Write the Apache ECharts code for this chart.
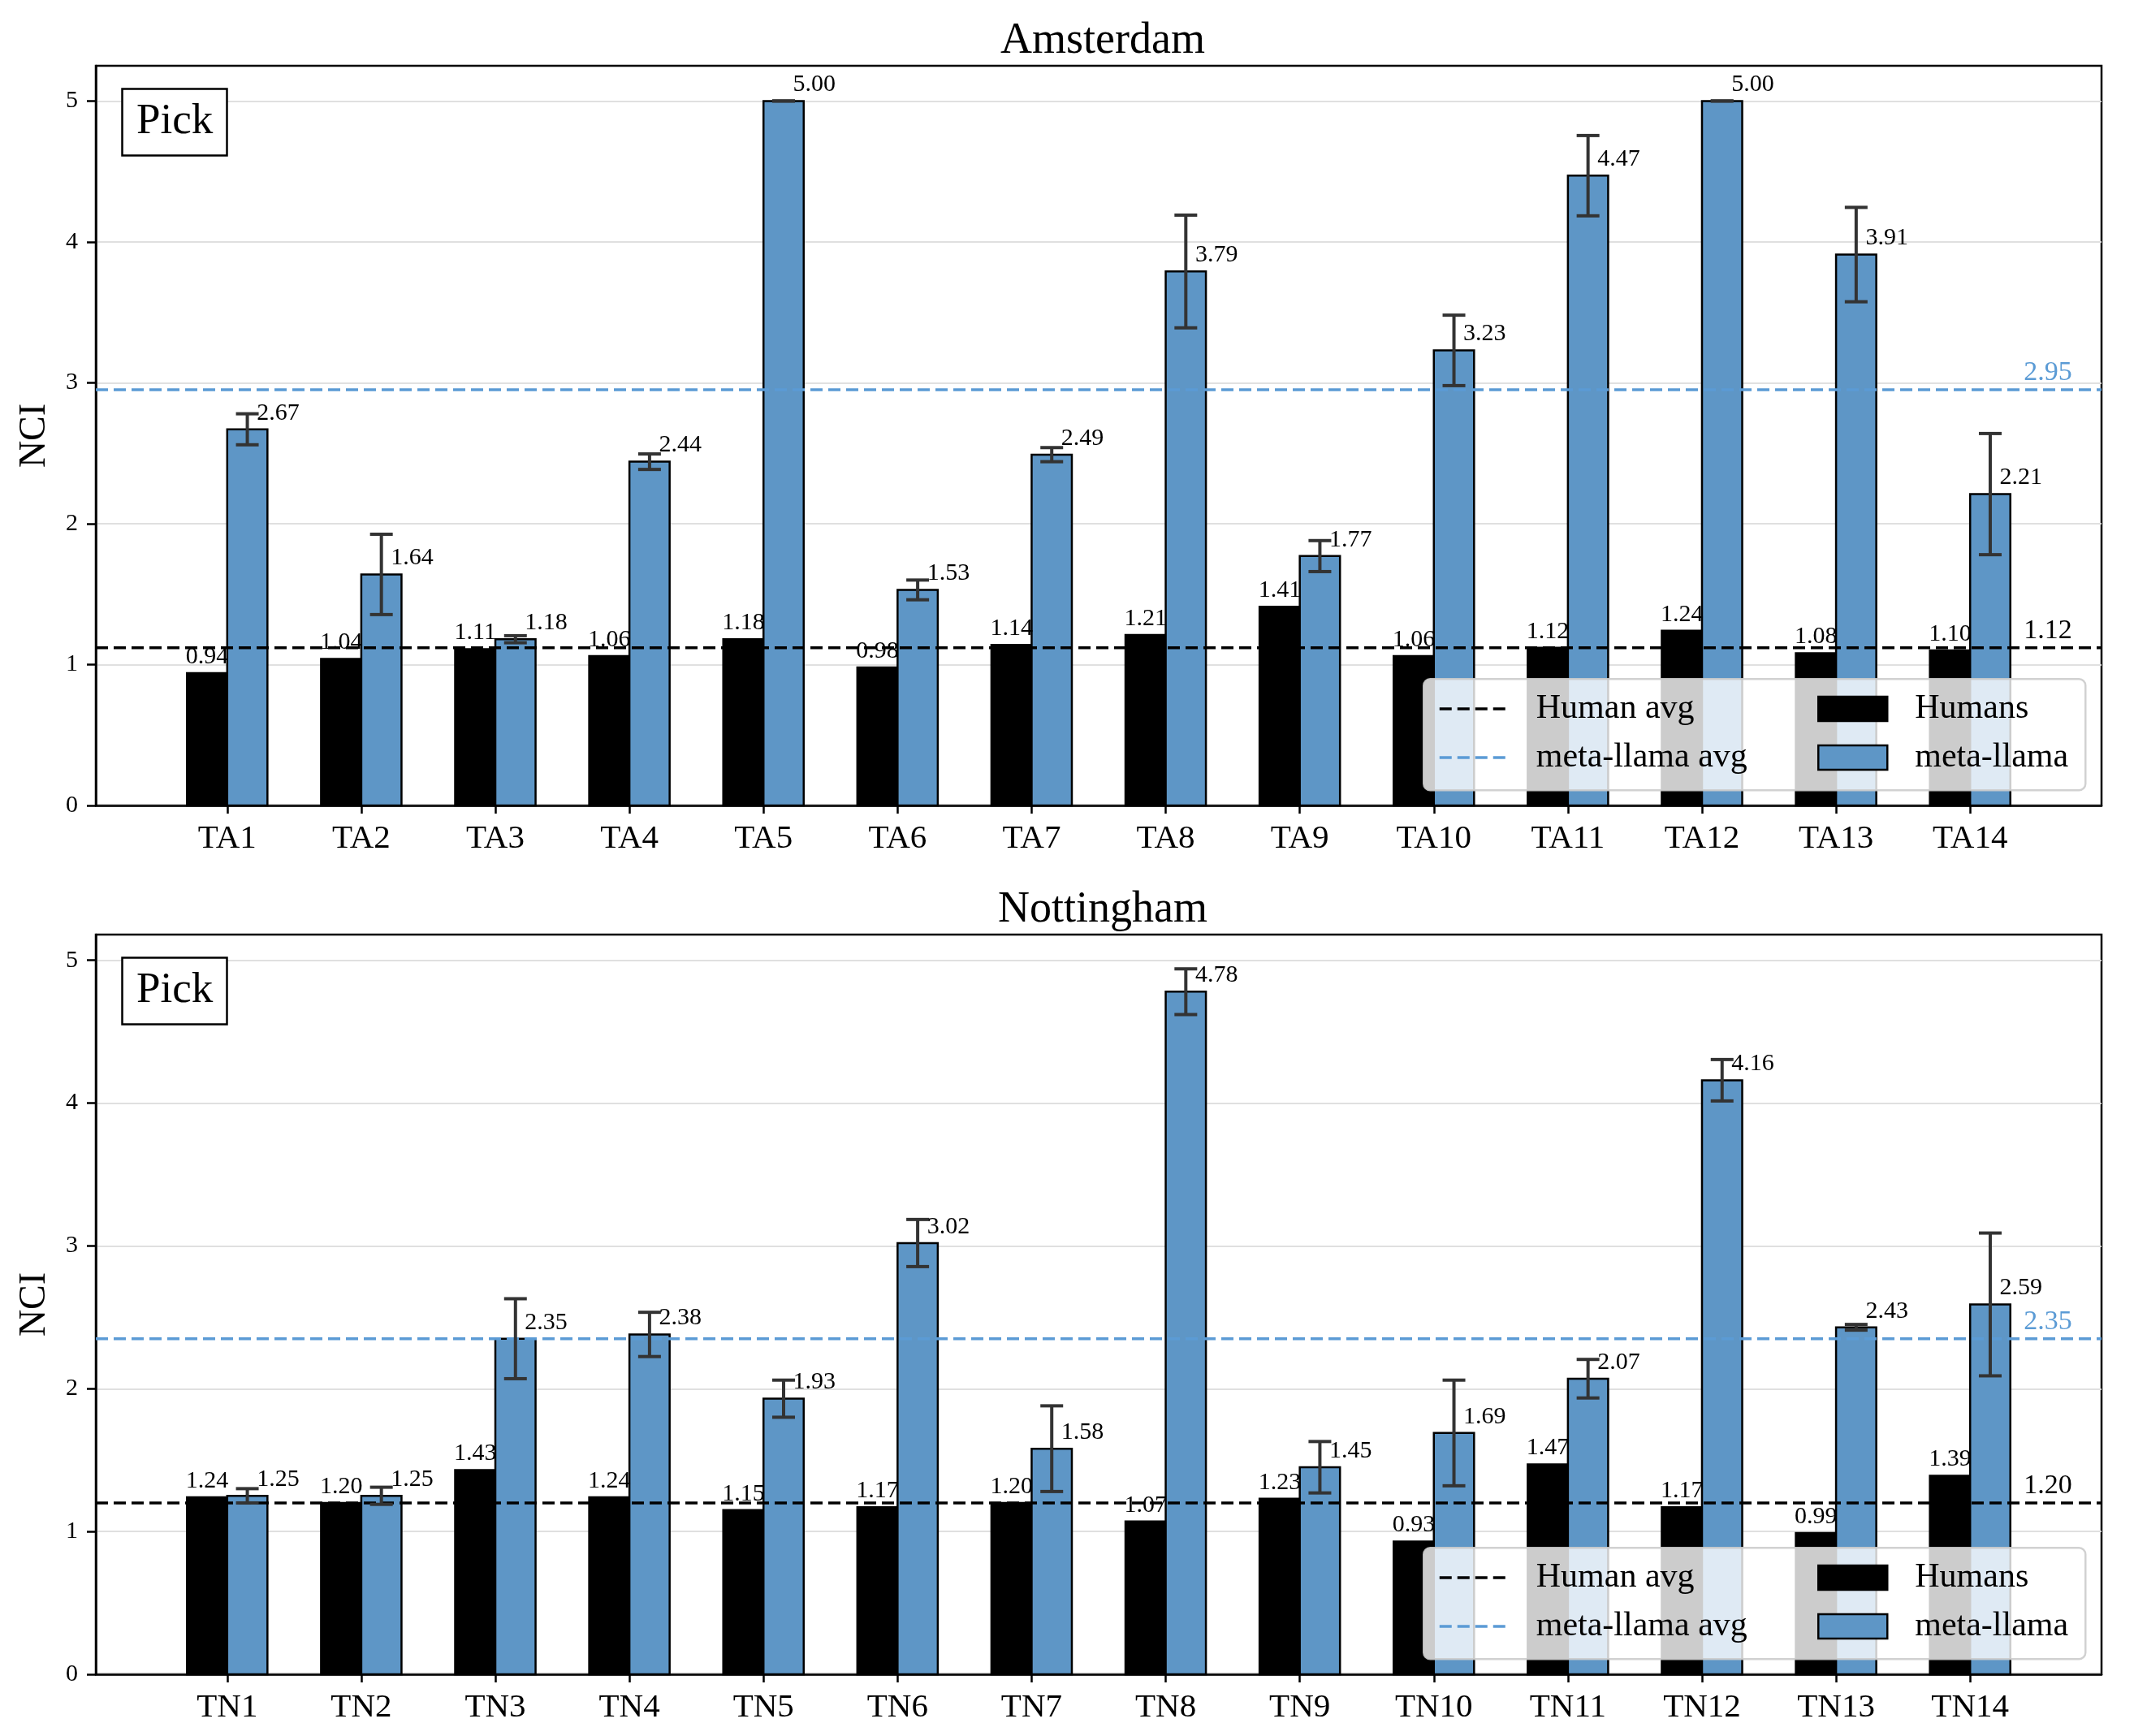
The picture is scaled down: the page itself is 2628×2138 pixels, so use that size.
<!DOCTYPE html>
<html><head><meta charset="utf-8">
<script src="https://cdn.jsdelivr.net/npm/echarts@6/dist/echarts.min.js"></script>
<style>html,body{margin:0;padding:0;background:#fff}#c{width:2628px;height:2138px}</style>
</head><body><div id="c"></div>
<script>
// ---- data ----
const catsA = ['TA1','TA2','TA3','TA4','TA5','TA6','TA7','TA8','TA9','TA10','TA11','TA12','TA13','TA14'];
const humansA = [0.94,1.04,1.11,1.06,1.18,0.98,1.14,1.21,1.41,1.06,1.12,1.24,1.08,1.10];
const llamaA  = [2.67,1.64,1.18,2.44,5.00,1.53,2.49,3.79,1.77,3.23,4.47,5.00,3.91,2.21];
const errA    = [0.11,0.285,0.025,0.055,0,0.07,0.05,0.40,0.11,0.25,0.285,0,0.335,0.43];
const humanAvgA = 1.12, llamaAvgA = 2.95;

const catsN = ['TN1','TN2','TN3','TN4','TN5','TN6','TN7','TN8','TN9','TN10','TN11','TN12','TN13','TN14'];
const humansN = [1.24,1.20,1.43,1.24,1.15,1.17,1.20,1.07,1.23,0.93,1.47,1.17,0.99,1.39];
const llamaN  = [1.25,1.25,2.35,2.38,1.93,3.02,1.58,4.78,1.45,1.69,2.07,4.16,2.43,2.59];
const errN    = [0.05,0.06,0.28,0.155,0.13,0.165,0.30,0.16,0.18,0.37,0.135,0.145,0.02,0.50];
const humanAvgN = 1.20, llamaAvgN = 2.35;

const yTicks = [0,1,2,3,4,5];
const panelTitles = ['Amsterdam','Nottingham'];
const yMaxes = [5.25, 5.18];
const X_MIN = -0.98, X_MAX = 13.98;

// ---- style ----
const FONT = '"Liberation Serif", "Times New Roman", serif';
const BLUE = '#5e96c6';
const AVG_BLUE = '#5b9bd5';
const ERR = '#333333';
const DY = 1070;

const panels = [
  {cats: catsA, h: humansA, l: llamaA, e: errA, ha: humanAvgA, la: llamaAvgA},
  {cats: catsN, h: humansN, l: llamaN, e: errN, ha: humanAvgN, la: llamaAvgN}
];

function barRender(o0, o1, fill) {
  return function (params, api) {
    const i = api.value(0), v = api.value(1);
    const p0 = api.coord([i + o0, v]);
    const p1 = api.coord([i + o1, 0]);
    return {type: 'rect', shape: {x: p0[0], y: p0[1], width: p1[0] - p0[0], height: p1[1] - p0[1]},
      style: {fill: fill, stroke: '#000', lineWidth: 2.5}};
  };
}
function errRender(params, api) {
  const i = api.value(0), v = api.value(1), e = api.value(2);
  const t = api.coord([i + 0.15, v + e]), b = api.coord([i + 0.15, v - e]);
  const cw = 14;
  const st = {stroke: ERR, lineWidth: 4};
  return {type: 'group', children: [
    {type: 'line', shape: {x1: t[0], y1: t[1], x2: b[0], y2: b[1]}, style: st},
    {type: 'line', shape: {x1: t[0] - cw, y1: t[1], x2: t[0] + cw, y2: t[1]}, style: st},
    {type: 'line', shape: {x1: b[0] - cw, y1: b[1], x2: b[0] + cw, y2: b[1]}, style: st}
  ]};
}
function labelRender(dx, align) {
  return function (params, api) {
    const v = api.value(1);
    const p = api.coord([api.value(0) + dx, v]);
    return {type: 'text', style: {x: p[0], y: p[1] - 5, text: v.toFixed(2), fill: '#000',
      font: '30px ' + FONT, align: align, verticalAlign: 'bottom'}};
  };
}
function avgLabelRender(color) {
  return function (params, api) {
    const v = api.value(1);
    const p = api.coord([api.value(0), v]);
    return {type: 'text', style: {x: p[0], y: p[1] - 4, text: v.toFixed(2), fill: color,
      font: '34px ' + FONT, align: 'left', verticalAlign: 'bottom'}};
  };
}

const grids = [], xAxes = [], yAxes = [], series = [], titles = [], legends = [], graphics = [];
panels.forEach((P, k) => {
  const dy = k * DY;
  const idx = P.cats.map((_, i) => i);
  grids.push({left: 118, top: 81 + dy, width: 2470, height: 911, show: true,
    borderColor: '#000', borderWidth: 2.5, backgroundColor: 'transparent'});
  xAxes.push({type: 'value', gridIndex: k, min: X_MIN, max: X_MAX,
    axisLine: {show: true, onZero: false, lineStyle: {color: '#000', width: 2.5}},
    axisTick: {show: true, customValues: idx, length: 10, lineStyle: {color: '#000', width: 2.5}},
    axisLabel: {customValues: idx, formatter: v => P.cats[Math.round(v)] || '', fontFamily: FONT,
      fontSize: 41, color: '#000', margin: 21},
    splitLine: {show: false}});
  yAxes.push({type: 'value', gridIndex: k, min: 0, max: yMaxes[k], interval: 1,
    name: 'NCI', nameLocation: 'middle', nameGap: 52,
    nameTextStyle: {fontFamily: FONT, fontSize: 46, color: '#000'},
    axisLine: {show: true, onZero: false, lineStyle: {color: '#000', width: 2.5}},
    axisTick: {show: true, customValues: yTicks, length: 11, lineStyle: {color: '#000', width: 2.5}},
    axisLabel: {customValues: yTicks, formatter: v => String(v), fontFamily: FONT, fontSize: 30,
      color: '#000', margin: 22},
    splitLine: {show: true, lineStyle: {color: '#e0e0e0', width: 2}}});

  series.push({name: 'Humans', type: 'custom', xAxisIndex: k, yAxisIndex: k, z: 2,
    itemStyle: {color: '#000', borderColor: '#000', borderWidth: 2.5},
    data: P.h.map((v, i) => [i, v]), renderItem: barRender(-0.3, 0, '#000')});
  series.push({name: 'meta-llama', type: 'custom', xAxisIndex: k, yAxisIndex: k, z: 2,
    itemStyle: {color: BLUE, borderColor: '#000', borderWidth: 2.5},
    data: P.l.map((v, i) => [i, v]), renderItem: barRender(0, 0.3, BLUE)});
  series.push({name: 'Human avg', type: 'line', xAxisIndex: k, yAxisIndex: k, z: 3,
    symbol: 'none', silent: true, color: '#000',
    lineStyle: {color: '#000', width: 3.5, type: [15, 7]},
    data: [[X_MIN, P.ha], [X_MAX, P.ha]]});
  series.push({name: 'meta-llama avg', type: 'line', xAxisIndex: k, yAxisIndex: k, z: 3,
    symbol: 'none', silent: true, color: AVG_BLUE,
    lineStyle: {color: AVG_BLUE, width: 3.5, type: [15, 7]},
    data: [[X_MIN, P.la], [X_MAX, P.la]]});
  series.push({name: 'err' + k, type: 'custom', xAxisIndex: k, yAxisIndex: k, z: 4, silent: true,
    data: P.l.map((v, i) => [i, v, P.e[i]]), renderItem: errRender});
  series.push({name: 'hlab' + k, type: 'custom', xAxisIndex: k, yAxisIndex: k, z: 5, silent: true,
    data: P.h.map((v, i) => [i, v]), renderItem: labelRender(-0.15, 'center')});
  series.push({name: 'llab' + k, type: 'custom', xAxisIndex: k, yAxisIndex: k, z: 5, silent: true,
    data: P.l.map((v, i) => [i, v]), renderItem: labelRender(0.22, 'left')});
  series.push({name: 'havglab' + k, type: 'custom', xAxisIndex: k, yAxisIndex: k, z: 5, silent: true,
    data: [[13.4, P.ha]], renderItem: avgLabelRender('#000')});
  series.push({name: 'lavglab' + k, type: 'custom', xAxisIndex: k, yAxisIndex: k, z: 5, silent: true,
    data: [[13.4, P.la]], renderItem: avgLabelRender(AVG_BLUE)});

  titles.push({text: panelTitles[k], left: 1353, top: 19 + dy, textAlign: 'center',
    textStyle: {fontFamily: FONT, fontSize: 54, fontWeight: 'normal', color: '#000'}});
  titles.push({text: 'Pick', left: 150, top: 109 + dy, borderColor: '#000', borderWidth: 2.5,
    padding: [15, 18, 15, 18], backgroundColor: '#fff',
    textStyle: {fontFamily: FONT, fontSize: 53, fontWeight: 'normal', color: '#000'}});

  graphics.push({type: 'rect', left: 1752, top: 835 + dy, z: 50,
    shape: {width: 815, height: 137, r: 8},
    style: {fill: 'rgba(255,255,255,0.8)', stroke: 'rgba(204,204,204,0.9)', lineWidth: 2.5}});

  const legBase = {orient: 'vertical', top: 852 + dy, padding: 0, itemGap: 18, itemWidth: 85,
    itemHeight: 30, z: 60, selectedMode: false,
    textStyle: {fontFamily: FONT, fontSize: 42, color: '#000', padding: [0, 0, 0, 29]}};
  legends.push(Object.assign({}, legBase, {left: 1771, data: ['Human avg', 'meta-llama avg'],
    lineStyle: {width: 3.5}, itemStyle: {color: 'rgba(0,0,0,0)', borderWidth: 0, opacity: 0}}));
  legends.push(Object.assign({}, legBase, {left: 2238,
    data: [{name: 'Humans', icon: 'rect'}, {name: 'meta-llama', icon: 'rect'}],
    itemStyle: {borderColor: '#000', borderWidth: 2.5}}));
});

const chart = echarts.init(document.getElementById('c'), null, {renderer: 'canvas'});
chart.setOption({
  animation: false,
  backgroundColor: '#fff',
  textStyle: {fontFamily: FONT},
  title: titles,
  grid: grids,
  xAxis: xAxes,
  yAxis: yAxes,
  legend: legends,
  graphic: {elements: graphics},
  series: series
});
</script></body></html>
